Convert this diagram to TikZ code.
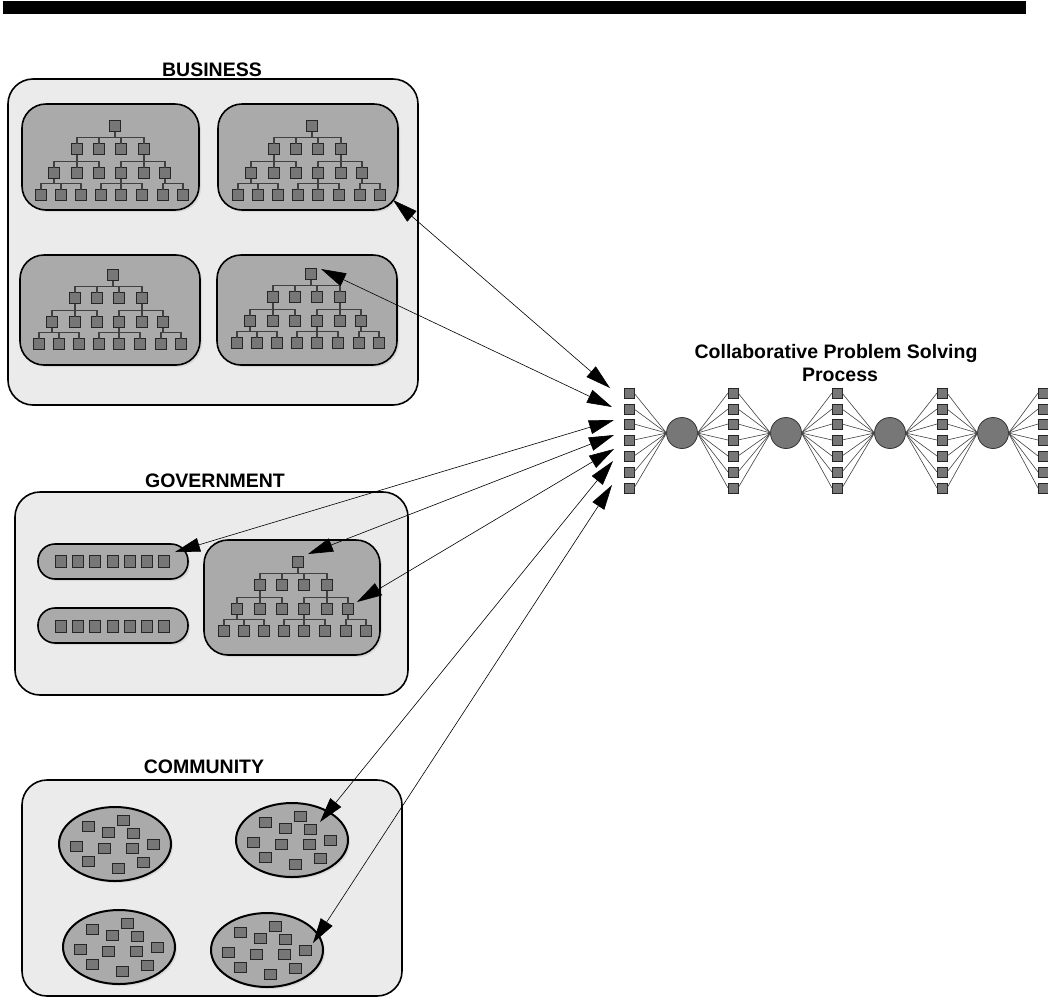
\documentclass[tikz,border=0pt]{standalone}
\usepackage{fontspec}
\setmainfont{Liberation Sans}
\usetikzlibrary{arrows.meta,shadows}
\definecolor{outerfill}{HTML}{EBEBEB}
\definecolor{innerfill}{HTML}{AAAAAA}
\definecolor{sqfill}{HTML}{777777}
\definecolor{treeline}{HTML}{404040}
\tikzset{
 outerbox/.style={draw=black, line width=1.6pt, fill=outerfill, rounded corners=25pt},
 innerbox/.style={draw=black, line width=1.6pt, fill=innerfill, rounded corners=24pt,
   drop shadow={shadow xshift=2pt, shadow yshift=-2pt, fill=black!22}},
 pill/.style={innerbox, rounded corners=17pt},
 blob/.style={draw=black, line width=2pt, fill=innerfill,
   drop shadow={shadow xshift=2pt, shadow yshift=-2pt, fill=black!22}},
 sq/.style={draw=black!85, line width=0.8pt, fill=sqfill, minimum width=11pt,
   minimum height=11pt, inner sep=0pt, outer sep=0pt},
 gsq/.style={sq, minimum width=11pt, minimum height=12pt},
 csq/.style={sq, minimum width=12pt, minimum height=10pt},
 psq/.style={sq, minimum width=10pt, minimum height=10pt},
 hub/.style={circle, draw=black!80, line width=0.8pt, fill=sqfill, minimum size=31pt,
   inner sep=0pt, outer sep=0pt},
 tree/.style={draw=treeline, line width=1.2pt},
 spoke/.style={draw=black!75, line width=0.6pt},
 link/.style={draw=black, line width=0.6pt,
   {Triangle[length=25pt,width=14pt]}-{Triangle[length=25pt,width=14pt]}},
 grouptitle/.style={font=\bfseries\fontsize{19.5}{23}\selectfont, anchor=base, inner sep=0pt},
}
\newcommand\orgtree[3]{%
 \begin{scope}[shift={(#2,#3)}]
  \node[sq] (#1r) at (0,0) {};
  \foreach \x [count=\i] in {-38,-16,6,29} \node[sq] (#1a\i) at (\x,23) {};
  \foreach \x [count=\i] in {-61,-38,-16,6,29,50} \node[sq] (#1b\i) at (\x,47) {};
  \foreach \x [count=\i] in {-74,-54,-34,-14,6,27,48,68} \node[sq] (#1c\i) at (\x,69) {};
  \foreach \i in {1,...,4} \draw[tree] (#1r.south) -- ++(0,6) -| (#1a\i.north);
  \foreach \i in {1,2,3} \draw[tree] (#1a1.south) -- ++(0,7) -| (#1b\i.north);
  \foreach \i in {4,5,6} \draw[tree] (#1a4.south) -- ++(0,7) -| (#1b\i.north);
  \foreach \i in {1,2,3} \draw[tree] (#1b1.south) -- ++(0,5) -| (#1c\i.north);
  \foreach \i in {4,5,6} \draw[tree] (#1b4.south) -- ++(0,5) -| (#1c\i.north);
  \foreach \i in {7,8} \draw[tree] (#1b6.south) -- ++(0,5) -| (#1c\i.north);
 \end{scope}}
\newcommand\cluster[3]{%
 \begin{scope}[shift={(#2,#3)}]
  \draw[blob] (0,0) ellipse [x radius=56pt, y radius=37pt];
  \foreach \x/\y [count=\i] in {-27/-18,-7/-12,8/-24,18/-11,-39/2,-11/4,17/4,38/0,-27/17,3/24,28/18}
    \node[csq] (#1s\i) at (\x,\y) {};
 \end{scope}}
\begin{document}
\begin{tikzpicture}[x=1pt,y=-1pt]
\useasboundingbox (0,0) rectangle (1048,1002);
% top bar
\fill[black] (3,1) rectangle (1026,14);

% ---------- BUSINESS ----------
\node[grouptitle] (tbus) at (212,76) {BUSINESS};
\draw[outerbox] (8,79) rectangle (418,405);
\draw[innerbox] (22,104) rectangle (199,210);
\draw[innerbox] (218,104) rectangle (398,210);
\draw[innerbox] (20,255) rectangle (200,365);
\draw[innerbox] (217,255) rectangle (397,365);
\orgtree{bA}{115}{126}
\orgtree{bB}{312}{126}
\orgtree{bC}{113}{275}
\orgtree{bD}{311}{274}

% ---------- GOVERNMENT ----------
\node[grouptitle] (tgov) at (215,487) {GOVERNMENT};
\draw[outerbox] (15,492) rectangle (408,695);
\draw[pill] (38,544) rectangle (188,579);
\draw[pill] (38,608) rectangle (188,643);
\foreach \x [count=\i] in {61,78,95,113,130,147,164} {
  \node[gsq] (gp\i) at (\x,561) {};
  \node[gsq] (gq\i) at (\x,626) {};
}
\draw[innerbox] (204,540) rectangle (380,655);
\orgtree{gT}{298}{562}

% ---------- COMMUNITY ----------
\node[grouptitle] (tcom) at (204,773) {COMMUNITY};
\draw[outerbox] (22,780) rectangle (402,996);
\cluster{cA}{115}{844}
\cluster{cB}{292}{840}
\cluster{cC}{119}{947}
\cluster{cD}{267}{950}

% ---------- PROCESS ----------
\node[grouptitle] (t1) at (836,358) {Collaborative Problem Solving};
\node[grouptitle] (t2) at (840,381) {Process};
\foreach \cx [count=\c] in {629,733,837,942,1043}
  \foreach \ry [count=\r] in {393,409,424,440,456,472,488}
    \node[psq] (p\c-\r) at (\cx,\ry) {};
\foreach \hx [count=\h] in {682,786,890,993}
  \node[hub] (h\h) at (\hx,433) {};
\foreach \h in {1,...,4} {
  \pgfmathtruncatemacro\nx{\h+1}
  \foreach \r in {1,...,7} {
    \draw[spoke] (p\h-\r.east) -- (h\h.west);
    \draw[spoke] (h\h.east) -- (p\nx-\r.west);
  }
}

% ---------- LINKS ----------
\coordinate (lA1) at (393,200); \coordinate (lA2) at (610,388);
\coordinate (lB1) at (321,269); \coordinate (lB2) at (612,407);
\coordinate (lC1) at (175,552); \coordinate (lC2) at (614,420);
\coordinate (lD1) at (308,554); \coordinate (lD2) at (614,435);
\coordinate (lE1) at (357,602); \coordinate (lE2) at (614,449);
\coordinate (lF1) at (320,822); \coordinate (lF2) at (613,461);
\coordinate (lG1) at (313,943); \coordinate (lG2) at (612,485);
\foreach \k in {A,B,C,D,E,F,G}
  \draw[link] (l\k1) -- (l\k2);
\end{tikzpicture}
\end{document}
